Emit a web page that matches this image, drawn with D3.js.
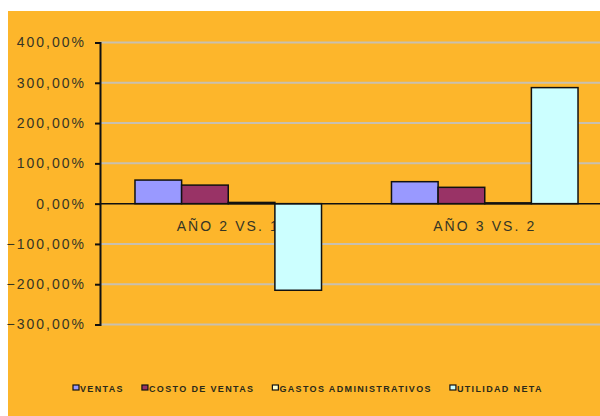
<!DOCTYPE html>
<html>
<head>
<meta charset="utf-8">
<script src="https://cdn.jsdelivr.net/npm/d3@7"></script>
<style>
  html, body { margin: 0; padding: 0; background: #ffffff; }
  svg { display: block; }
  text { font-family: "Liberation Sans", Arial, sans-serif; }
</style>
</head>
<body>
<svg id="chart" width="600" height="416"></svg>
<script>
// Variación porcentual por periodo
const categories = ["AÑO 2 VS. 1", "AÑO 3 VS. 2"];
const seriesNames = ["VENTAS", "COSTO DE VENTAS", "GASTOS ADMINISTRATIVOS", "UTILIDAD NETA"];
const ventas = [58.5, 54.5];
const costoVentas = [46, 40.5];
const gastosAdmin = [3, 2];
const utilidadNeta = [-215, 288];
const tickValues = [400, 300, 200, 100, 0, -100, -200, -300];
const seriesColors = ["#9999FF", "#993366", "#FFFFCC", "#CCFFFF"];

const seriesValues = [ventas, costoVentas, gastosAdmin, utilidadNeta];

const svg = d3.select("#chart");
const W = 600, H = 416;

// chart area background
svg.append("rect")
  .attr("x", 8).attr("y", 11)
  .attr("width", W - 8).attr("height", H - 11)
  .attr("fill", "#FDB62B");

const plot = { left: 100, right: 613, top: 42.5, bottom: 324.5 };

const y = d3.scaleLinear().domain([-300, 400]).range([plot.bottom, plot.top]);
const x = d3.scaleBand().domain(categories).range([plot.left, plot.right]).padding(0);
// 150% gap width between groups
const groupWidth = x.bandwidth() * 4 / 5.5;
const xs = d3.scaleBand().domain(d3.range(seriesNames.length))
  .range([0, groupWidth]).padding(0);

const fmt = v => d3.format(".2f")(v).replace(".", ",") + "%";

// gridlines
svg.append("g")
  .selectAll("line")
  .data(tickValues.filter(v => v !== 0))
  .join("line")
  .attr("x1", plot.left).attr("x2", W)
  .attr("y1", d => y(d)).attr("y2", d => y(d))
  .attr("stroke", "#C8C0B0").attr("stroke-width", 2);

// value axis
const yAxis = d3.axisLeft(y).tickValues(tickValues).tickSize(5).tickPadding(9).tickFormat(fmt);
const gy = svg.append("g").attr("transform", `translate(${plot.left},0)`).call(yAxis);
gy.select(".domain").attr("stroke", "#111").attr("stroke-width", 2);
gy.selectAll(".tick line").attr("stroke", "#111").attr("stroke-width", 2);
gy.selectAll(".tick text")
  .attr("fill", "#353525")
  .style("font-size", "14px")
  .style("letter-spacing", "2px")
  .style("font-family", "'Liberation Sans', Arial, sans-serif");

// category labels (under the bars)
svg.append("g")
  .selectAll("text")
  .data(categories)
  .join("text")
  .attr("x", d => x(d) + x.bandwidth() / 2)
  .attr("y", y(0) + 27)
  .attr("text-anchor", "middle")
  .attr("fill", "#353525")
  .style("font-size", "14px")
  .style("letter-spacing", "2.1px")
  .text(d => d);

// bars
const groups = svg.append("g")
  .selectAll("g")
  .data(categories)
  .join("g")
  .attr("transform", d => `translate(${x(d) + (x.bandwidth() - groupWidth) / 2},0)`);

groups.selectAll("rect")
  .data((c, ci) => seriesValues.map((s, si) => ({ si, v: s[ci] })))
  .join("rect")
  .attr("x", d => xs(d.si))
  .attr("width", xs.bandwidth())
  .attr("y", d => y(Math.max(0, d.v)))
  .attr("height", d => Math.abs(y(d.v) - y(0)))
  .attr("fill", d => seriesColors[d.si])
  .attr("stroke", "#111")
  .attr("stroke-width", 1.5);

// zero line
svg.append("line")
  .attr("x1", plot.left).attr("x2", W)
  .attr("y1", y(0)).attr("y2", y(0))
  .attr("stroke", "#111").attr("stroke-width", 1.5);

// legend
const legend = svg.append("g").attr("transform", "translate(73,388)");
let lx = 0;
seriesNames.forEach((name, i) => {
  const g = legend.append("g").attr("transform", `translate(${lx},0)`);
  g.append("rect")
    .attr("x", 0).attr("y", -3).attr("width", 6).attr("height", 5)
    .attr("fill", seriesColors[i]).attr("stroke", "#111").attr("stroke-width", 1.2);
  const t = g.append("text")
    .attr("x", 7).attr("y", 3.5)
    .attr("fill", "#2a2a1a")
    .style("font-size", "9px")
    .style("font-weight", "bold")
    .style("letter-spacing", "1.35px")
    .text(name);
  lx += 7 + t.node().getComputedTextLength() + 18;
});
</script>
</body>
</html>
